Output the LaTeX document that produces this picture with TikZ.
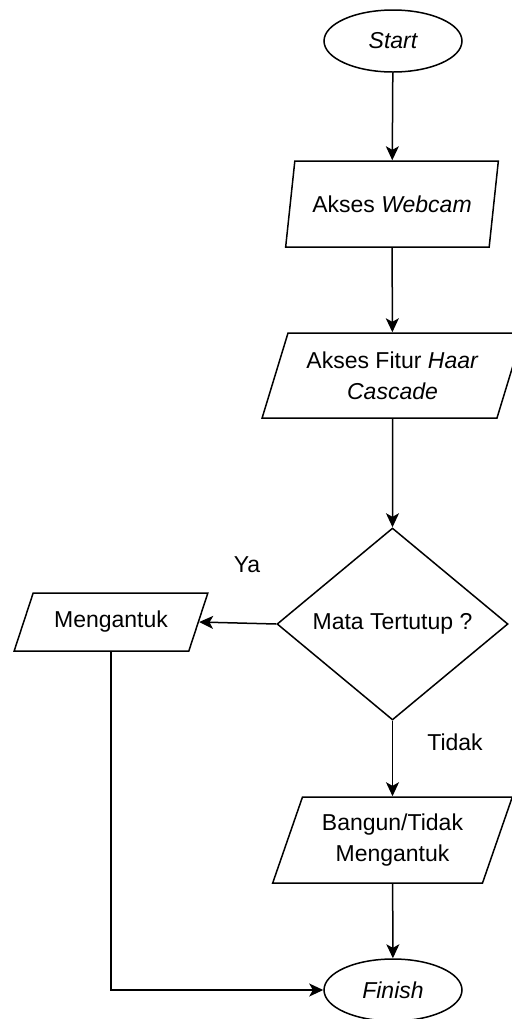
\documentclass[tikz,border=0pt]{standalone}
\usepackage{fontspec}
\setmainfont{Liberation Sans}
\usetikzlibrary{shapes.geometric, arrows.meta, positioning}

\tikzset{
  terminal/.style={ellipse, draw, line width=0.75pt, minimum width=69pt, minimum height=31pt, inner sep=0pt, font=\fontsize{11.5}{15.5}\selectfont\itshape},
  inout/.style={trapezium, trapezium left angle=66, trapezium right angle=114, trapezium stretches=true, draw, line width=0.75pt, minimum height=43pt, inner sep=0pt, align=center},
  decision/.style={diamond, draw, line width=0.75pt, minimum width=115.5pt, minimum height=96pt, inner sep=0pt},
  flow/.style={line width=0.75pt, -{Stealth[length=7pt, width=6.5pt, inset=1.8pt]}}
}

\begin{document}
\begin{tikzpicture}[x=0.5pt, y=-0.5pt, font=\fontsize{11.5}{15.5}\selectfont]
\useasboundingbox (0,0) rectangle (512,1019);

\node[terminal] (start) at (393, 41) {Start};
\node[inout, minimum width=107pt] (webcam) at (392, 204) {Akses \textit{Webcam}};
\node[inout, minimum width=130.5pt, minimum height=42.5pt] (haar) at (392.5, 375.5) {Akses Fitur \textit{Haar}\\\textit{Cascade}};
\node[decision] (dec) at (392.5, 624) {Mata Tertutup ?};
\node[inout, minimum width=97pt, minimum height=29pt, trapezium left angle=57, trapezium right angle=123] (ngantuk) at (111, 622) {Mengantuk};
\node[inout, minimum width=120.5pt] (bangun) at (392.5, 840) {Bangun/Tidak\\Mengantuk};
\node[terminal] (finish) at (393, 990) {Finish};

\node (lblya) at (247, 565) {Ya};
\node (lbltidak) at (455, 742) {Tidak};

\foreach \a/\b in {start/webcam, webcam/haar, haar/dec, dec/bangun, bangun/finish}
    \draw[flow] (\a) -- (\b);

\draw[flow] (dec.west) -- (ngantuk.east);
\draw[flow] (ngantuk.south) |- (finish.west);

\end{tikzpicture}
\end{document}
